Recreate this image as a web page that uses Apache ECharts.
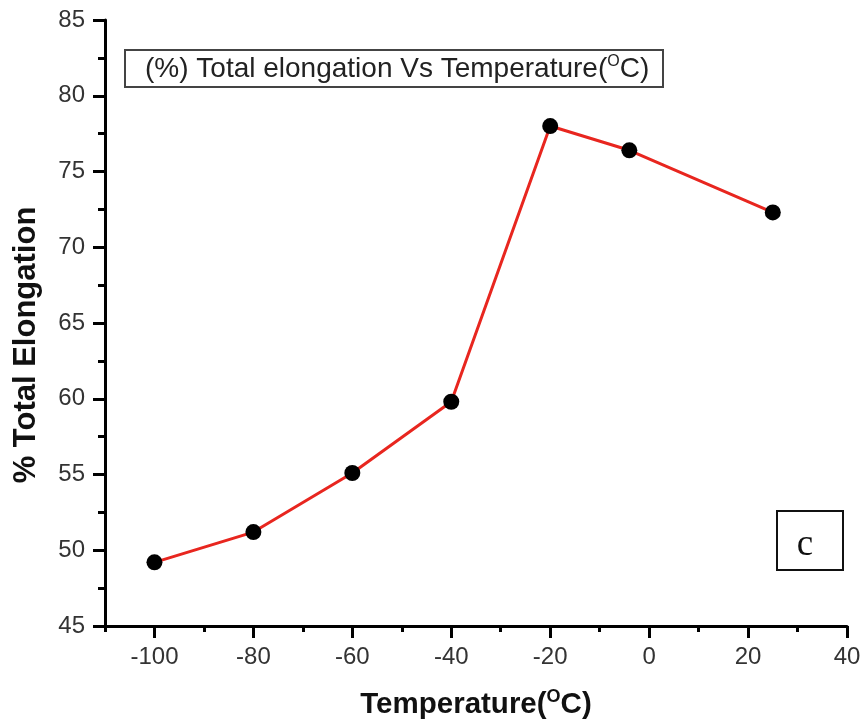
<!DOCTYPE html>
<html>
<head>
<meta charset="utf-8">
<script src="https://cdn.jsdelivr.net/npm/echarts@6/dist/echarts.min.js"></script>
<style>
  html, body { margin: 0; padding: 0; background: #fff; }
  #chart { width: 866px; height: 727px; }
</style>
</head>
<body>
<div id="chart"></div>
<script>
// Test temperature (°C) and measured total elongation (%)
const temperatures = [-100, -80, -60, -40, -20, -4, 25];
const elongation = [49.2, 51.2, 55.1, 59.8, 78.0, 76.4, 72.3];

// Axis ranges and labelled tick values
const xRange = { min: -110, max: 40, minorStep: 10 };
const xMajorTicks = [-100, -80, -60, -40, -20, 0, 20, 40];
const yRange = { min: 45, max: 85, step: 5 };

const seriesData = temperatures.map((t, i) => [t, elongation[i]]);

const chart = echarts.init(document.getElementById('chart'));
const font = '"Liberation Sans", Arial, sans-serif';
const black = '#000';

chart.setOption({
  animation: false,
  backgroundColor: '#fff',
  grid: { left: 105, right: 19, top: 20, bottom: 101, containLabel: false },
  title: {
    text: '{t|(%) Total elongation Vs Temperature(}{s|O}{t|C)}',
    left: 125, top: 50,
    padding: [4, 14, 4, 20],
    borderColor: '#444', borderWidth: 2,
    textStyle: {
      fontWeight: 'normal',
      rich: {
        t: { fontFamily: font, fontSize: 28, fontWeight: 'normal', color: '#222', lineHeight: 30 },
        s: { fontFamily: font, fontSize: 16, fontWeight: 'normal', color: '#222', verticalAlign: 'top', lineHeight: 30, padding: [0, 0, 13, 0] }
      }
    }
  },
  xAxis: [
    {
      // labelled axis with the long ticks every 20 °C
      type: 'value', position: 'bottom',
      min: xRange.min, max: xRange.max, interval: xRange.minorStep,
      axisLine: { onZero: false, lineStyle: { color: black, width: 3 } },
      axisTick: { show: true, length: 12, customValues: xMajorTicks, lineStyle: { color: black, width: 3 } },
      splitLine: { show: false },
      axisLabel: { margin: 19, customValues: xMajorTicks, fontFamily: font, fontSize: 24, color: '#333' },
      name: '{t|Temperature(}{s|O}{t|C)}',
      nameLocation: 'middle', nameGap: 62,
      nameTextStyle: {
        rich: {
          t: { fontFamily: font, fontSize: 29.5, fontWeight: 'bold', color: '#111', lineHeight: 34 },
          s: { fontFamily: font, fontSize: 18, fontWeight: 'bold', color: '#111', verticalAlign: 'top', lineHeight: 34, padding: [0, 0, 14, 0] }
        }
      }
    },
    {
      // short ticks every 10 °C
      type: 'value', position: 'bottom',
      min: xRange.min, max: xRange.max, interval: xRange.minorStep,
      axisLine: { show: false, onZero: false },
      axisTick: { show: true, length: 6, lineStyle: { color: black, width: 3 } },
      axisLabel: { show: false },
      splitLine: { show: false }
    }
  ],
  yAxis: {
    type: 'value',
    min: yRange.min, max: yRange.max, interval: yRange.step,
    axisLine: { show: true, onZero: false, lineStyle: { color: black, width: 3 } },
    axisTick: { show: true, length: 12, lineStyle: { color: black, width: 3 } },
    minorTick: { show: true, splitNumber: 2, length: 7, lineStyle: { color: black, width: 3 } },
    splitLine: { show: false },
    axisLabel: { margin: 20, fontFamily: font, fontSize: 24, color: '#333' },
    name: '% Total Elongation',
    nameLocation: 'middle', nameGap: 63,
    nameTextStyle: { fontFamily: font, fontSize: 31, fontWeight: 'bold', color: '#111', padding: [0, 44, 0, 0] }
  },
  graphic: [
    {
      type: 'rect', left: 776, top: 510,
      shape: { width: 66, height: 59 },
      style: { fill: '#fff', stroke: '#111', lineWidth: 2 }
    },
    {
      type: 'text', x: 805, y: 545,
      style: {
        text: 'c', align: 'center', verticalAlign: 'middle',
        font: '37px "Liberation Serif", "Times New Roman", serif', fill: '#111'
      }
    }
  ],
  series: [{
    type: 'line',
    xAxisIndex: 0,
    data: seriesData,
    symbol: 'circle', symbolSize: 16,
    lineStyle: { color: '#e8261f', width: 3 },
    itemStyle: { color: black }
  }]
});
</script>
</body>
</html>
